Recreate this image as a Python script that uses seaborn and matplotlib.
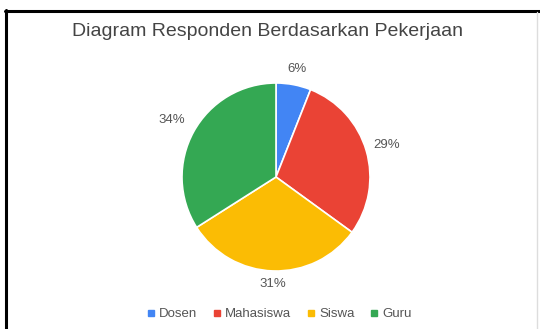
import matplotlib
matplotlib.use("Agg")
import matplotlib.pyplot as plt
from matplotlib.lines import Line2D
import seaborn as sns
import numpy as np

categories = ["Dosen", "Mahasiswa", "Siswa", "Guru"]
values = [6, 29, 31, 34]
pct_labels = ["6%", "29%", "31%", "34%"]

sns.set_theme(style="white")
plt.rcParams["font.family"] = ["Liberation Sans", "DejaVu Sans"]

colors = ["#4285F4", "#EA4335", "#FBBC04", "#34A853"]
palette = sns.color_palette(colors)

W, H = 540, 329
fig = plt.figure(figsize=(W / 100, H / 100), dpi=100)
fig.patch.set_facecolor("white")

cx, cy, r = 276, 177, 94
ax = fig.add_axes([(cx - r) / W, (H - cy - r) / H, 2 * r / W, 2 * r / H])
wedges, _ = ax.pie(values, colors=palette, startangle=90, counterclock=False,
                   radius=1.0, wedgeprops=dict(edgecolor="white", linewidth=1.2))
ax.set_xlim(-1, 1)
ax.set_ylim(-1, 1)
ax.set_aspect("equal")
ax.axis("off")

label_r = [1.17, 1.23, 1.14, 1.26]
total = sum(values)
cum = 0
for v, lab, lr in zip(values, pct_labels, label_r):
    mid = (cum + v / 2) / total
    ang = np.deg2rad(90 - 360 * mid)
    ax.text(lr * np.cos(ang), lr * np.sin(ang), lab, ha="center", va="center",
            fontsize=9.5, color="#555555", clip_on=False)
    cum += v

fig.text(268 / W, 1 - 31 / H, "Diagram Responden Berdasarkan Pekerjaan",
         ha="center", va="center", fontsize=14, color="#444444")

handles = [Line2D([0], [0], marker="s", linestyle="", markersize=4.5,
                  markerfacecolor=c, markeredgecolor=c) for c in palette]
fig.legend(handles, categories, loc="center", bbox_to_anchor=(278 / W, 1 - 314 / H),
           ncol=4, frameon=False, fontsize=9.5, handletextpad=0.1,
           columnspacing=1.0, handlelength=1.0, labelcolor="#555555")

# frame lines
fig.add_artist(Line2D([6 / W, 6 / W], [0, 1 - 10 / H], transform=fig.transFigure,
                      color="black", linewidth=2.2))
fig.add_artist(Line2D([5 / W, 1], [1 - 11 / H, 1 - 11 / H], transform=fig.transFigure,
                      color="black", linewidth=2.2))
fig.add_artist(Line2D([537 / W, 537 / W], [0, 1 - 12 / H], transform=fig.transFigure,
                      color="#dddddd", linewidth=1.0))

fig.savefig("out.png", dpi=100, facecolor="white")
